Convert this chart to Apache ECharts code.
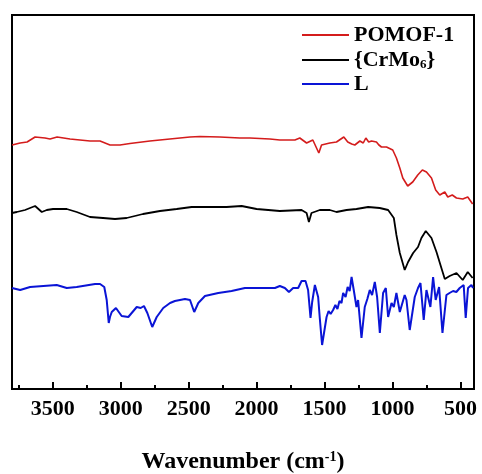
<!DOCTYPE html>
<html><head><meta charset="utf-8">
<script src="https://cdn.jsdelivr.net/npm/echarts@6/dist/echarts.min.js"></script>
<style>html,body{margin:0;padding:0;background:#fff}#c{width:482px;height:474px}</style>
</head><body><div id="c"></div>
<script>
const seriesNames = ['POMOF-1', '{CrMo6}', 'L'];
const majorTicks = [3500, 3000, 2500, 2000, 1500, 1000, 500];
const minorTicks = [3750, 3250, 2750, 2250, 1750, 1250, 750];

const redWn = [3799,3740,3689,3630,3557,3520,3468,3373,3226,3152,3079,3005,2932,2785,2638,2490,2417,2270,2123,2049,1902,1829,1718,1682,1632,1586,1542,1522,1461,1412,1358,1329,1300,1277,1240,1215,1196,1175,1154,1118,1100,1081,1044,998,971,946,924,888,851,814,780,750,713,682,652,615,593,560,529,483,446,410];
const redT  = [244,246,247,252,251,250,252,250,248,248,244,244,245.5,248,250,252,252.5,252,251,251,250,249,249,251,246,249,236,244,246,247,252,247,245,244,248,246,251,247,248,247,244,242,242,239,231,221,211,203,207,214,219,217,211,199,194,197,192,194,191,190,192,185];

const blackWn = [3800,3765,3704,3630,3581,3544,3498,3397,3324,3226,3130,3042,2956,2836,2711,2588,2478,2343,2221,2110,2000,1829,1669,1632,1615,1596,1535,1461,1412,1338,1265,1179,1094,1032,990,971,946,910,885,848,812,787,755,713,676,640,615,579,529,483,446,410];
const blackT  = [176,177,179,183,177,179,180,180,177,172,171,170,171,175,178,180,182,182,182,183,180,178,179,176,167,176,179,179,177,179,180,182,181,179,171,154,136,119,127,136,142,151,158,151,137,121,110,113,116,109,117,111];

const blueWn = [3800,3740,3667,3569,3471,3397,3324,3189,3152,3121,3103,3088,3079,3066,3035,2993,2944,2882,2853,2829,2804,2768,2735,2687,2637,2601,2527,2490,2459,2429,2380,2282,2184,2086,1963,1865,1829,1792,1762,1731,1694,1669,1640,1621,1603,1591,1571,1547,1535,1518,1485,1470,1455,1437,1420,1405,1390,1375,1363,1345,1330,1315,1301,1285,1265,1253,1228,1204,1185,1167,1150,1130,1113,1093,1069,1049,1032,1007,990,971,946,910,897,873,836,812,794,770,750,721,701,682,657,632,603,580,554,530,505,476,461,444,419,407];
const blueT  = [101,99,102,103,104,101,102,105,105,102,89,66,72,77,81,73,72,82,81,83,76,62,72,81,86,88,90,89,77,86,93,96,98,101,101,101,103,101,97,101,101,108,108,99,71,87,104,92,71,44,72,78,75,79,84,80,88,86,96,92,102,98,112,99,82,89,51,82,90,99,94,107,92,56,96,101,72,86,82,96,77,94,89,59,92,101,106,69,99,82,112,89,102,56,94,96,98,97,101,104,71,101,104,101];

function pairs(w, t) { return w.map((x, i) => [x, t[i]]); }

const serif = "'Liberation Serif','Times New Roman',serif";
const chart = echarts.init(document.getElementById('c'), null, {renderer: 'canvas'});

function legendFor(name, top) {
  return {
    data: [name], left: 297, top: top, orient: 'vertical',
    icon: 'rect', itemWidth: 47, itemHeight: 2, itemGap: 0,
    textStyle: {fontFamily: serif, fontWeight: 'bold', fontSize: 22, color: '#000',
      rich: {s: {fontFamily: serif, fontWeight: 'bold', fontSize: 13, color: '#000', verticalAlign: 'bottom', padding: [10, 0, 0, 0]}}},
    formatter: n => n === '{CrMo6}' ? '{CrMo{s|6}}' : n,
    selectedMode: false
  };
}

chart.setOption({
  animation: false,
  backgroundColor: '#fff',
  grid: {left: 12, right: 8, top: 15, bottom: 85, outerBoundsMode: 'none', containLabel: false, show: true, borderColor: '#000', borderWidth: 2, backgroundColor: 'transparent'},
  legend: [legendFor(seriesNames[0], 19), legendFor(seriesNames[1], 44), legendFor(seriesNames[2], 68)],
  xAxis: [{
    type: 'value', inverse: true, min: 400, max: 3800, position: 'bottom', offset: 0,
    axisLine: {show: false, onZero: false},
    splitLine: {show: false},
    axisTick: {show: true, inside: true, length: 7, lineStyle: {color: '#000', width: 2}, customValues: majorTicks},
    axisLabel: {show: true, customValues: majorTicks, margin: 9, color: '#000', fontFamily: serif, fontWeight: 'bold', fontSize: 22, formatter: v => String(v)},
    name: '{a|Wavenumber (cm}{s|-1}{a|)}', nameLocation: 'middle', nameGap: 61,
    nameTextStyle: {rich: {
      a: {fontFamily: serif, fontWeight: 'bold', fontSize: 24, color: '#000'},
      s: {fontFamily: serif, fontWeight: 'bold', fontSize: 14, color: '#000', verticalAlign: 'top', padding: [0, 0, 10, 0]}
    }}
  }, {
    type: 'value', inverse: true, min: 400, max: 3800, position: 'bottom', offset: 0,
    axisLine: {show: false, onZero: false}, splitLine: {show: false},
    axisTick: {show: true, inside: true, length: 4, lineStyle: {color: '#000', width: 2}, customValues: minorTicks},
    axisLabel: {show: false}
  }],
  yAxis: {type: 'value', min: 0, max: 374, show: false},
  series: [
    {name: seriesNames[0], type: 'line', xAxisIndex: 0, data: pairs(redWn, redT), showSymbol: false, symbol: 'none', lineStyle: {color: '#d41c1c', width: 1.6}, itemStyle: {color: '#d41c1c'}},
    {name: seriesNames[1], type: 'line', xAxisIndex: 0, data: pairs(blackWn, blackT), showSymbol: false, symbol: 'none', lineStyle: {color: '#000000', width: 1.8}, itemStyle: {color: '#000000'}},
    {name: seriesNames[2], type: 'line', xAxisIndex: 0, data: pairs(blueWn, blueT), showSymbol: false, symbol: 'none', lineStyle: {color: '#0a14d6', width: 2}, itemStyle: {color: '#0a14d6'}}
  ]
});
</script></body></html>
